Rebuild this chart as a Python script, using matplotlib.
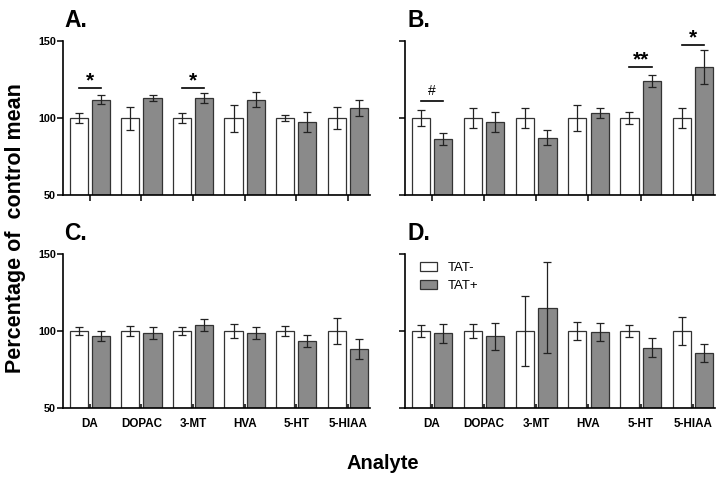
import numpy as np
import matplotlib.pyplot as plt
import matplotlib as mpl

mpl.rcParams['font.family'] = ['Liberation Sans', 'DejaVu Sans']

analytes = ["DA", "DOPAC", "3-MT", "HVA", "5-HT", "5-HIAA"]

# panel A
a_neg = [100, 100, 100, 100, 100, 100]
a_neg_err = [3.2, 7.5, 3.2, 8.8, 1.9, 7.3]
a_pos = [111.9, 113.1, 113.1, 111.9, 97.4, 106.5]
a_pos_err = [2.8, 2.0, 3.5, 5.0, 6.7, 5.0]

# panel B
b_neg = [100, 100, 100, 100, 100, 100]
b_neg_err = [5.4, 6.5, 6.5, 8.6, 3.9, 6.3]
b_pos = [86.6, 97.4, 87.3, 103.4, 124.1, 133.2]
b_pos_err = [3.9, 6.5, 5.0, 3.2, 3.9, 10.8]

# panel C
c_neg = [100, 100, 100, 100, 100, 100]
c_neg_err = [2.8, 3.2, 2.6, 4.3, 3.0, 8.2]
c_pos = [96.8, 98.5, 103.9, 98.7, 93.8, 88.1]
c_pos_err = [3.2, 3.9, 3.7, 3.7, 3.9, 6.5]

# panel D
d_neg = [100, 100, 100, 100, 100, 100]
d_neg_err = [4.1, 4.3, 22.8, 5.6, 4.1, 9.3]
d_pos = [98.5, 96.6, 115.3, 99.6, 89.2, 85.8]
d_pos_err = [6.0, 8.8, 29.7, 5.8, 6.0, 6.0]

# significance marks: (group index, line height, text)
a_sig = [(0, 119.4, "*"), (2, 119.4, "*")]
b_sig = [(0, 111.4, "#"), (4, 133.0, "**"), (5, 147.4, "*")]

fig = plt.figure(figsize=(7.24, 4.83), dpi=100)

left_x = [0.087, 0.559]
widths = [0.424, 0.429]
bottoms = [0.596, 0.155]
h = 0.319

panels = [
    ("A.", a_neg, a_neg_err, a_pos, a_pos_err, a_sig, 0, 0),
    ("B.", b_neg, b_neg_err, b_pos, b_pos_err, b_sig, 1, 0),
    ("C.", c_neg, c_neg_err, c_pos, c_pos_err, [], 0, 1),
    ("D.", d_neg, d_neg_err, d_pos, d_pos_err, [], 1, 1),
]

x = np.arange(len(analytes))
bw = 0.35
off = 0.215

for letter, neg, neg_e, pos, pos_e, sig, col, row in panels:
    ax = fig.add_axes([left_x[col], bottoms[row], widths[col], h])
    err_kw = dict(capsize=2.7, elinewidth=0.9, capthick=0.9, ecolor="#222222")
    ax.bar(x - off, np.array(neg) - 50, bw, bottom=50, yerr=neg_e,
           color="white", edgecolor="#333333", linewidth=0.9,
           error_kw=err_kw, label="TAT-")
    ax.bar(x + off, np.array(pos) - 50, bw, bottom=50, yerr=pos_e,
           color="#8a8a8a", edgecolor="#333333", linewidth=0.9,
           error_kw=err_kw, label="TAT+")

    for i, yl, txt in sig:
        ax.plot([i - off, i + off], [yl, yl], color="black", lw=1.2)
        if txt == "#":
            ax.text(i, yl + 1.5, txt, ha="center", va="bottom", fontsize=10)
        else:
            ax.text(i, yl - 1.5, txt, ha="center", va="bottom",
                    fontsize=15, fontweight="bold")

    ax.set_xlim(-0.52, 5.43)
    ax.set_ylim(50, 150)
    ax.set_yticks([50, 100, 150])
    ax.set_xticks(x)
    for s in ["top", "right"]:
        ax.spines[s].set_visible(False)
    for s in ["left", "bottom"]:
        ax.spines[s].set_linewidth(1.2)

    if col == 0:
        ax.set_yticklabels(["50", "100", "150"], fontsize=7.8, fontweight="bold")
    else:
        ax.set_yticklabels([])
    ax.tick_params(axis="y", length=4, width=1.1, pad=1)

    if row == 1:
        ax.set_xticklabels(analytes, fontsize=8.4, fontweight="bold")
        ax.tick_params(axis="x", direction="in", length=3, width=1.1, pad=7)
    else:
        ax.set_xticklabels([])
        ax.tick_params(axis="x", direction="out", length=4, width=1.1)

    ax.text(0.005 if col == 0 else 0.01, 1.09, letter, transform=ax.transAxes,
            fontsize=16.5, fontweight="bold", va="baseline", ha="left")

    if letter == "D.":
        ax.legend(loc="upper left", bbox_to_anchor=(0.048, 0.95), frameon=False,
                  fontsize=9.5, handlelength=1.3, handleheight=0.65,
                  handletextpad=0.8, labelspacing=0.45,
                  borderaxespad=0, borderpad=0)

fig.text(0.022, 0.528, "Percentage of  control mean", rotation=90,
         ha="center", va="center", fontsize=15.5, fontweight="bold")
fig.text(0.529, 0.040, "Analyte", ha="center", va="center",
         fontsize=14.5, fontweight="bold")

fig.savefig("out.png", dpi=100)
